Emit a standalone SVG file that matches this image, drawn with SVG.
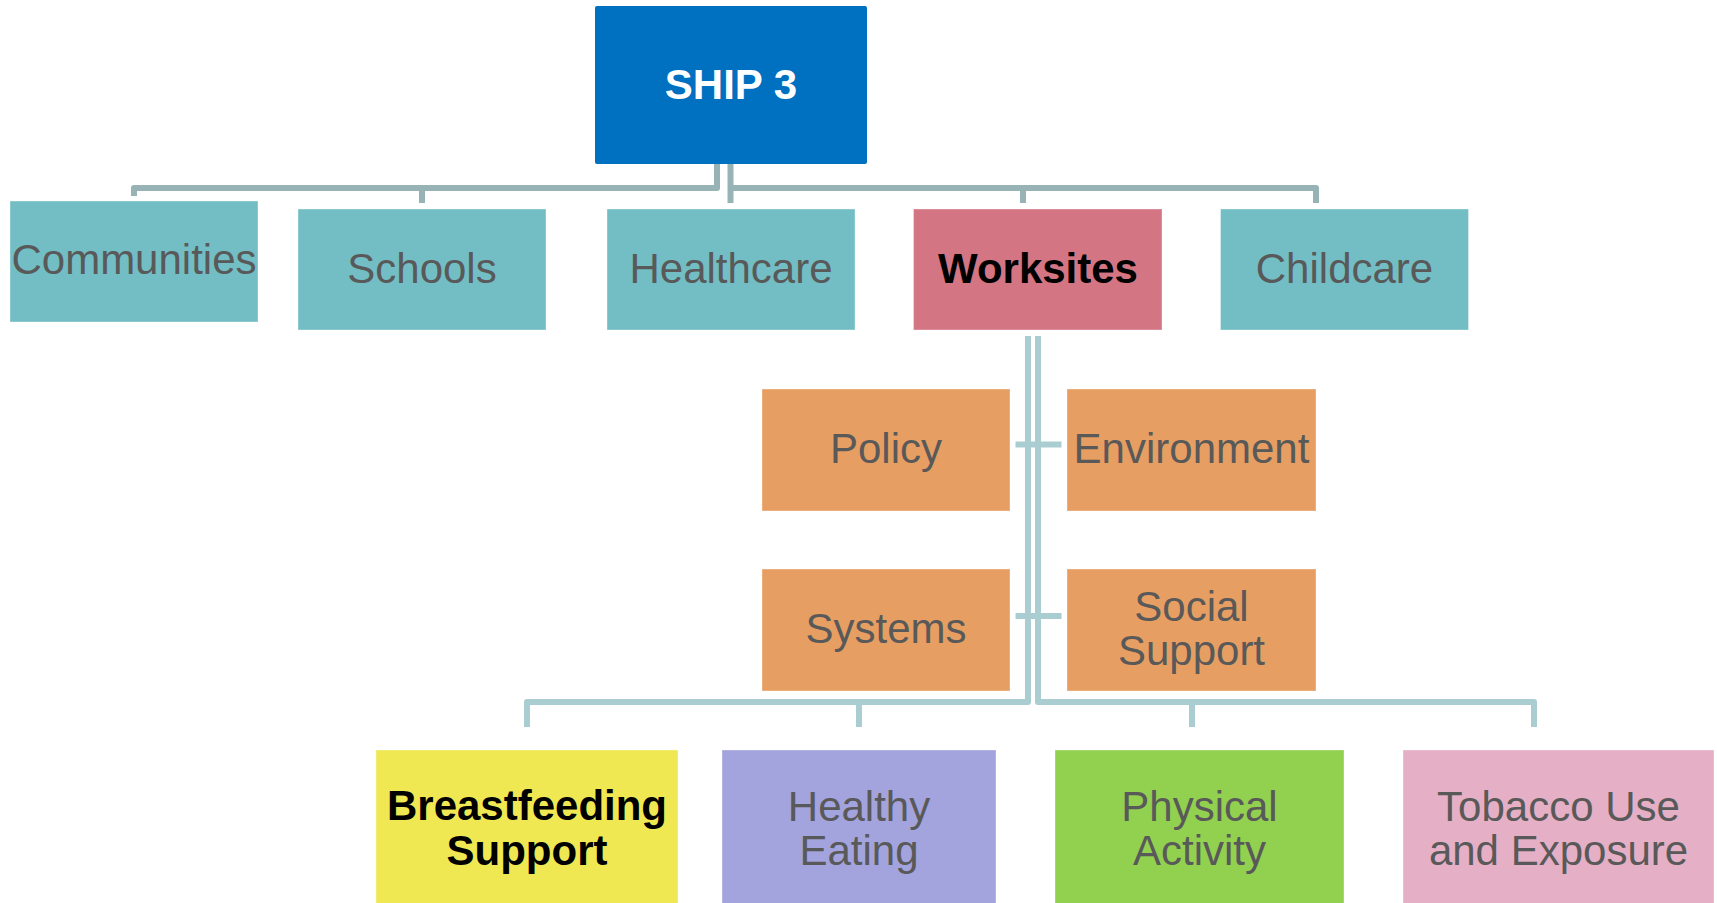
<svg xmlns="http://www.w3.org/2000/svg" width="1717" height="903" viewBox="0 0 1717 903">
  <style>
    .box { stroke: #ffffff; stroke-opacity: 0.35; stroke-width: 1; }
    .teal { fill: #72BEC4; }
    .orange { fill: #E79E62; }
    .lbl { font-family: "Liberation Sans", Arial, sans-serif; font-size: 42px; fill: #595959; text-anchor: middle; }
    .bold { font-weight: bold; fill: #000000; }
    .top { fill: none; stroke: #97B3B6; stroke-width: 6; stroke-linejoin: round; }
    .low { fill: none; stroke: #A9CDD1; stroke-width: 6; stroke-linejoin: round; }
  </style>
  <rect width="1717" height="903" fill="#ffffff"/>

  <!-- connectors -->
  <g id="connectors">
    <!-- SHIP 3 to first row -->
    <path class="top" d="M717 164 V188 H134 V196"/>
    <path class="top" d="M422 188 V203"/>
    <path class="top" d="M730.5 164 V203"/>
    <path class="top" d="M730.5 188 H1316 V203"/>
    <path class="top" d="M1023 188 V203"/>
    <!-- Worksites to strategies and topics -->
    <path class="low" d="M1028 336 V702 H527 V727"/>
    <path class="low" d="M859 702 V727"/>
    <path class="low" d="M1038 336 V702 H1534 V727"/>
    <path class="low" d="M1192 702 V727"/>
    <path class="low" d="M1015.5 444.5 H1061.5"/>
    <path class="low" d="M1015.5 616 H1061.5"/>
  </g>

  <!-- root -->
  <g id="ship3">
    <rect x="595" y="6" width="272" height="158" rx="2" fill="#0070C0"/>
    <text class="lbl" x="731" y="99" style="font-weight:bold;fill:#ffffff">SHIP 3</text>
  </g>

  <!-- settings -->
  <g id="communities">
    <rect class="box teal" x="10" y="201" width="248" height="121"/>
    <text class="lbl" x="134" y="274">Communities</text>
  </g>
  <g id="schools">
    <rect class="box teal" x="298" y="209" width="248" height="121"/>
    <text class="lbl" x="422" y="283">Schools</text>
  </g>
  <g id="healthcare">
    <rect class="box teal" x="607" y="209" width="248" height="121"/>
    <text class="lbl" x="731" y="283">Healthcare</text>
  </g>
  <g id="worksites">
    <rect class="box" x="913.5" y="209" width="248.5" height="121" fill="#D47583"/>
    <text class="lbl bold" x="1038" y="283">Worksites</text>
  </g>
  <g id="childcare">
    <rect class="box teal" x="1220.5" y="209" width="248" height="121"/>
    <text class="lbl" x="1344.5" y="283">Childcare</text>
  </g>

  <!-- strategies -->
  <g id="policy">
    <rect class="box orange" x="762" y="389" width="248" height="122"/>
    <text class="lbl" x="886" y="463">Policy</text>
  </g>
  <g id="environment">
    <rect class="box orange" x="1067" y="389" width="249" height="122"/>
    <text class="lbl" x="1191.5" y="463">Environment</text>
  </g>
  <g id="systems">
    <rect class="box orange" x="762" y="569" width="248" height="122"/>
    <text class="lbl" x="886" y="643">Systems</text>
  </g>
  <g id="social-support">
    <rect class="box orange" x="1067" y="569" width="249" height="122"/>
    <text class="lbl" x="1191.5" y="621">Social</text>
    <text class="lbl" x="1191.5" y="665">Support</text>
  </g>

  <!-- topics -->
  <g id="breastfeeding">
    <rect class="box" x="376" y="750" width="302" height="160" fill="#EFE852"/>
    <text class="lbl bold" x="527" y="820">Breastfeeding</text>
    <text class="lbl bold" x="527" y="865">Support</text>
  </g>
  <g id="healthy-eating">
    <rect class="box" x="722" y="750" width="274" height="160" fill="#A3A3DE"/>
    <text class="lbl" x="859" y="821">Healthy</text>
    <text class="lbl" x="859" y="865">Eating</text>
  </g>
  <g id="physical-activity">
    <rect class="box" x="1055" y="750" width="289" height="160" fill="#92D050"/>
    <text class="lbl" x="1199.5" y="821">Physical</text>
    <text class="lbl" x="1199.5" y="865">Activity</text>
  </g>
  <g id="tobacco">
    <rect class="box" x="1403" y="750" width="311" height="160" fill="#E5AFC6"/>
    <text class="lbl" x="1558.5" y="821">Tobacco Use</text>
    <text class="lbl" x="1558.5" y="865">and Exposure</text>
  </g>
</svg>
